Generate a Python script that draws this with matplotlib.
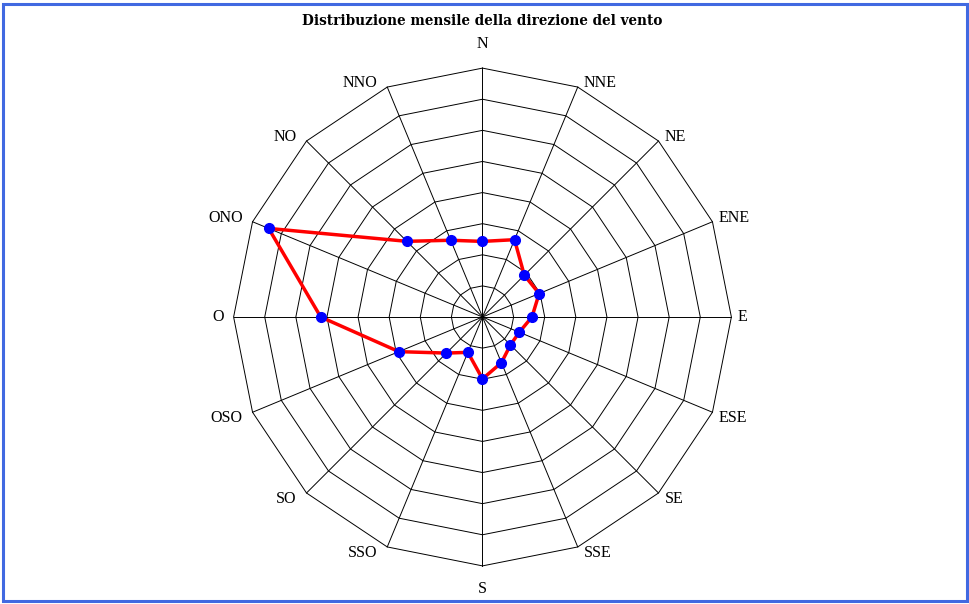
import numpy as np
import matplotlib
matplotlib.use('Agg')
from matplotlib import pyplot as plt
from matplotlib.patches import Rectangle

# direzioni (in senso orario partendo da Nord)
directions = ['N', 'NNE', 'NE', 'ENE', 'E', 'ESE', 'SE', 'SSE',
              'S', 'SSO', 'SO', 'OSO', 'O', 'ONO', 'NO', 'NNO']
values = [2.43, 2.69, 1.90, 1.97, 1.59, 1.28, 1.27, 1.59,
          1.99, 1.23, 1.64, 2.91, 5.20, 7.44, 3.44, 2.67]
rings = [1, 2, 3, 4, 5, 6, 7, 8]
title = 'Distribuzione mensile della direzione del vento'

plt.rcParams['font.family'] = ['Liberation Serif', 'DejaVu Serif']

fig = plt.figure(figsize=(9.7, 6.04), dpi=100)
# bordo blu attorno a tutta l'immagine
fig.patches.append(Rectangle((3/970, 3/604), 964/970, 597/604, transform=fig.transFigure,
                             fill=False, edgecolor='#4169e1', lw=2.2))

R = 9.0
ax = fig.add_axes([(482.5-280)/970, (604-317-280)/604, 560/970, 560/604])
ax.set_xlim(-R, R)
ax.set_ylim(-R, R)
ax.axis('off')

n = len(directions)
ang = np.pi/2 - np.arange(n)*2*np.pi/n
cx, cy = np.cos(ang), np.sin(ang)

# griglia poligonale
for r in rings:
    ax.plot(np.append(cx, cx[0])*r, np.append(cy, cy[0])*r, color='black', lw=0.7)
for i in range(n):
    ax.plot([0, cx[i]*rings[-1]], [0, cy[i]*rings[-1]], color='black', lw=0.7)

# etichette, agganciate ai vertici esterni
rmax = rings[-1]
for i, d in enumerate(directions):
    x, y = cx[i]*rmax, cy[i]*rmax
    if abs(x) < 1e-6:
        ha = 'center'
        dx = 0
        if y > 0:
            va, dy = 'bottom', 16
        else:
            va, dy = 'top', -15
    else:
        ha = 'left' if x > 0 else 'right'
        dx = 6 if x > 0 else -10
        dy = 0
        if abs(y) < 1e-6:
            va = 'center'
        elif y > 0:
            va = 'baseline'
        else:
            va = 'top'
            dy = 2
    ax.annotate(d, (x, y), xytext=(dx, dy), textcoords='offset pixels',
                ha=ha, va=va, fontsize=11.5)

v = np.array(values)
ax.plot(np.append(v*cx, v[0]*cx[0]), np.append(v*cy, v[0]*cy[0]),
        color='red', lw=2.5, zorder=3)
ax.plot(v*cx, v*cy, 'o', color='blue', ms=7, zorder=4)

fig.text(482.5/970, 1-21/604, title, ha='center', va='center', fontsize=9.8,
         fontweight='bold', family='DejaVu Serif')

plt.savefig('out.png', dpi=100)
